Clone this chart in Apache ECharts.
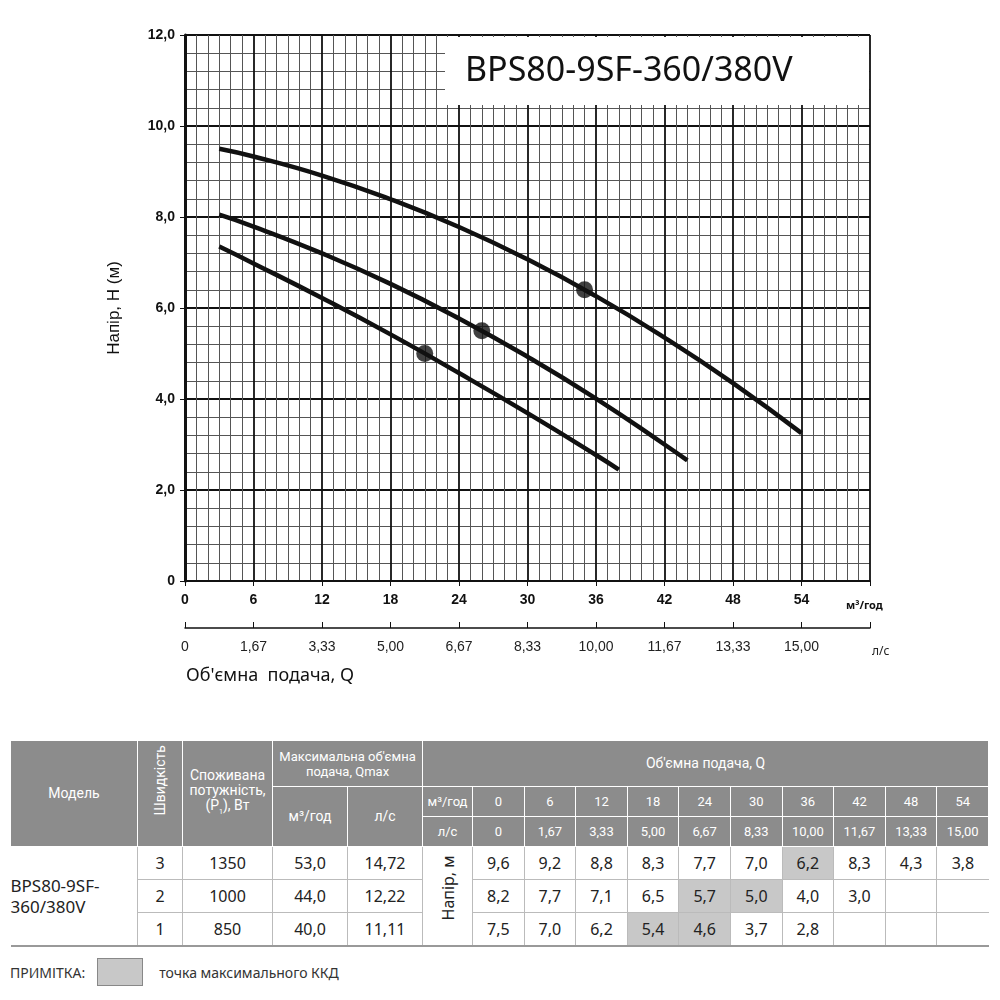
<!DOCTYPE html>
<html><head><meta charset="utf-8">
<script src="https://cdn.jsdelivr.net/npm/echarts@6/dist/echarts.min.js"></script>
<style>
body{margin:0;background:#fff;width:1000px;height:1000px;position:relative;overflow:hidden;font-family:"Noto Sans",sans-serif}
#c{position:absolute;left:0;top:0;width:1000px;height:700px}
table{position:absolute;left:10px;top:740px;border-collapse:collapse;width:978px;table-layout:fixed}
td,th{text-align:center;padding:0;font-weight:normal}
th{background:#8c8c8c;color:#fff;border:1px solid #fff;font-family:"Liberation Sans Narrow","Roboto",sans-serif;font-size:13px;line-height:15px}
td{font-size:16px;color:#222;height:32px;border-bottom:1px solid #bbb;border-left:1px solid #bbb}
tr.last td{border-bottom:2px solid #999}
td.hl{background:#c8c8c8}
#note{position:absolute;left:10px;top:958px;font-size:14px;color:#333;display:flex;align-items:center}
#note span.b{display:inline-block;width:44px;height:26px;background:#c8c8c8;border:1px solid #888;margin:0 16px 0 12px}
</style></head><body>
<div id="c"></div>
<table id="t"></table>
<div id="note">ПРИМІТКА:<span class="b"></span>точка максимального ККД</div>
<script>
const curve3=[[3,9.5],[6,9.33],[12,8.91],[18,8.39],[24,7.78],[30,7.07],[36,6.26],[42,5.35],[48,4.35],[54,3.25]];
const curve2=[[3,8.05],[6,7.79],[12,7.2],[18,6.53],[24,5.77],[30,4.93],[36,4.01],[42,3.0],[44,2.65]];
const curve1=[[3,7.35],[6,6.98],[12,6.22],[18,5.42],[24,4.57],[30,3.69],[36,2.77],[38,2.45]];
const bep=[[35,6.4],[26,5.5],[21,5.0]];
const title="BPS80-9SF-360/380V";
const qM3=["0","6","12","18","24","30","36","42","48","54"];
const qLs=["0","1,67","3,33","5,00","6,67","8,33","10,00","11,67","13,33","15,00"];
const speeds=["3","2","1"];
const power=["1350","1000","850"];
const qmaxM3=["53,0","44,0","40,0"];
const qmaxLs=["14,72","12,22","11,11"];
const heads=[["9,6","9,2","8,8","8,3","7,7","7,0","6,2","8,3","4,3","3,8"],
 ["8,2","7,7","7,1","6,5","5,7","5,0","4,0","3,0","",""],
 ["7,5","7,0","6,2","5,4","4,6","3,7","2,8","","",""]];
const hl=[[6],[4,5],[3,4]];

const ch=echarts.init(document.getElementById('c'));
const lineS=d=>({type:'line',data:d,smooth:true,symbol:'none',lineStyle:{color:'#111',width:4.5},z:5});
const ax={type:'value',min:0,max:60,interval:6};
ch.setOption({
 animation:false,
 grid:{left:185,right:130,top:35,bottom:119},
 xAxis:[
  Object.assign({},ax,{position:'bottom',axisLine:{onZero:false,lineStyle:{color:'#111',width:2}},axisTick:{show:true,length:5,lineStyle:{color:'#111'}},
   axisLabel:{fontWeight:'bold',fontSize:14,color:'#111',margin:12,formatter:v=>v>=60?'':String(v)},
   splitLine:{show:true,lineStyle:{color:'#111',width:1.8}},minorTick:{show:false,splitNumber:6},minorSplitLine:{show:true,lineStyle:{color:'#555',width:1}}}),
  Object.assign({},ax,{position:'bottom',offset:47,axisLine:{onZero:false,lineStyle:{color:'#111',width:1.5}},axisTick:{show:true,inside:true,length:6,lineStyle:{color:'#111'}},
   axisLabel:{fontSize:14,color:'#222',margin:12,formatter:v=>v>=60?'':qLs[v/6]},splitLine:{show:false}})
 ],
 yAxis:{type:'value',min:0,max:12,interval:2,axisLine:{show:true,lineStyle:{color:'#111',width:3}},axisTick:{show:true,length:5,lineStyle:{color:'#111'}},
  axisLabel:{fontWeight:'bold',fontSize:14,color:'#111',margin:10,formatter:v=>v===0?'0':v.toFixed(1).replace('.',',')},
  name:'Напір, H (м)',nameLocation:'middle',nameGap:62,nameTextStyle:{fontSize:17,color:'#111'},
  splitLine:{show:true,lineStyle:{color:'#111',width:1.8}},minorSplitLine:{show:true,lineStyle:{color:'#555',width:1}},minorTick:{splitNumber:5}},
 series:[lineS(curve3),lineS(curve2),lineS(curve1),
  {type:'scatter',data:bep,symbolSize:17,itemStyle:{color:'#111'},z:6}],
 graphic:[
  {type:'rect',shape:{x:445,y:37,width:424,height:68},style:{fill:'#fff'},z:10},
  {type:'text',left:465,top:54,style:{text:title,font:'34px "Noto Sans"',fill:'#111'},z:11},
  {type:'text',left:846,top:600,style:{text:'м³/год',font:'bold 11px "Noto Sans"',fill:'#111'}},
  {type:'text',left:872,top:646,style:{text:'л/с',font:'12px "Noto Sans"',fill:'#222'}},
  {type:'text',left:186,top:667,style:{text:'Об\'ємна  подача, Q',font:'18px "Noto Sans"',fill:'#111'}}
 ]
});

const widths=[127,45,90,75,75,50].concat(Array(10).fill(51.6));
let h='<colgroup>'+widths.map(w=>'<col style="width:'+w+'px">').join('')+'</colgroup>';
h+='<tr style="height:46px"><th rowspan="3" style="font-size:14px">Модель</th><th rowspan="3"><div style="transform:rotate(-90deg);white-space:nowrap;font-size:14px">Швидкість</div></th>'+
'<th rowspan="3" style="font-size:14px">Споживана<br>потужність,<br>(P<sub style="font-size:7px">1</sub>), Вт</th><th colspan="2">Максимальна об\'ємна<br>подача, Qmax</th><th colspan="11" style="font-size:14px">Об\'ємна подача, Q</th></tr>'+
'<tr style="height:30px"><th rowspan="2" style="font-size:14px">м³/год</th><th rowspan="2" style="font-size:14px">л/с</th><th>м³/год</th>'+qM3.map(v=>'<th>'+v+'</th>').join('')+'</tr>'+
'<tr style="height:30px"><th>л/с</th>'+qLs.map(v=>'<th>'+v+'</th>').join('')+'</tr>';
for(let r=0;r<3;r++){
 h+='<tr'+(r==2?' class="last"':'')+'>';
 if(r==0)h+='<td rowspan="3" style="text-align:left;border-left:none;font-size:17px;line-height:21px;border-bottom:2px solid #999">BPS80-9SF-<br>360/380V</td>';
 h+='<td>'+speeds[r]+'</td><td>'+power[r]+'</td><td>'+qmaxM3[r]+'</td><td>'+qmaxLs[r]+'</td>';
 if(r==0)h+='<td rowspan="3" style="border-bottom:2px solid #999"><div style="transform:rotate(-90deg);white-space:nowrap">Напір, м</div></td>';
 heads[r].forEach((v,i)=>{h+='<td'+(hl[r].includes(i)?' class="hl"':'')+'>'+v+'</td>';});
 h+='</tr>';
}
document.getElementById('t').innerHTML=h;
</script></body></html>
